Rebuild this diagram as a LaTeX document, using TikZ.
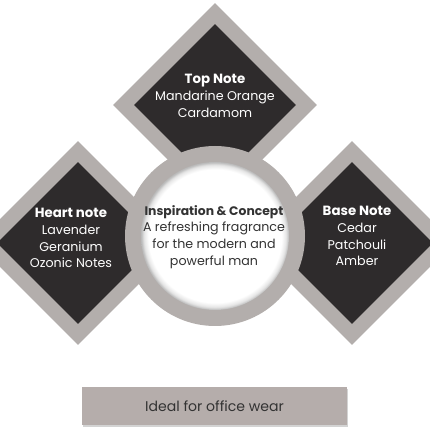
\documentclass[tikz,border=0pt]{standalone}
\usepackage{fontspec}
\setmainfont{Poppins}
\usetikzlibrary{shapes.geometric,shadows}
\definecolor{ringgray}{HTML}{B3AEAC}
\definecolor{notedark}{HTML}{2E2B2C}
\definecolor{bargray}{HTML}{B5ADAB}
\definecolor{inktext}{HTML}{333333}
\newcommand\notehead{\fontsize{9.5}{12}\selectfont\bfseries}
\pgfdeclareradialshading{innershadow}{\pgfpoint{0bp}{0bp}}{color(0bp)=(white); color(22.5bp)=(white); color(24bp)=(white!90!black); color(25bp)=(white!72!black); color(50bp)=(white!72!black)}
\begin{document}
\begin{tikzpicture}[x=0.25mm,y=0.25mm,line join=round,
	outerdia/.style={diamond,aspect=1,inner sep=0pt,minimum size=51mm,fill=ringgray},
	innerdia/.style={diamond,aspect=1,inner sep=0pt,minimum size=40.5mm,fill=notedark},
	notetext/.style={text=white,align=center,font=\fontsize{9}{12}\selectfont}]
	\useasboundingbox (0,0) rectangle (430,430);
	\clip (0,0) rectangle (430,430);
	\node[outerdia] (topout) at (215,325) {};
	\node[outerdia] (heartout) at (78,187) {};
	\node[outerdia] (baseout) at (352,187) {};
	\node[innerdia] (topin) at (topout) {};
	\node[innerdia] (heartin) at (heartout) {};
	\node[innerdia] (basein) at (baseout) {};
	\coordinate (core) at (215,194);
	\fill[ringgray] (core) circle (90);
	\shade[shading=innershadow] (core) circle (74);
	\node[notetext] (toptext) at (215,334) {{\notehead Top Note}\\Mandarine Orange\\Cardamom};
	\node[notetext] (hearttext) at (71,192) {{\notehead Heart note}\\Lavender\\Geranium\\Ozonic Notes};
	\node[notetext] (basetext) at (357,194) {{\notehead Base Note}\\Cedar\\Patchouli\\Amber};
	\node[notetext,text=inktext] (coretext) at (214,193) {{\fontsize{8.8}{12}\selectfont\bfseries Inspiration \& Concept}\\A refreshing fragrance\\for the modern and\\powerful man};
	\node[fill=bargray,minimum width=66.25mm,minimum height=9.5mm,text=inktext,font=\fontsize{10}{12}\selectfont,
		drop shadow={shadow xshift=0.6pt,shadow yshift=-1.2pt,opacity=0.35}] (officebar) at (214.5,24) {Ideal for office wear};
\end{tikzpicture}
\end{document}
